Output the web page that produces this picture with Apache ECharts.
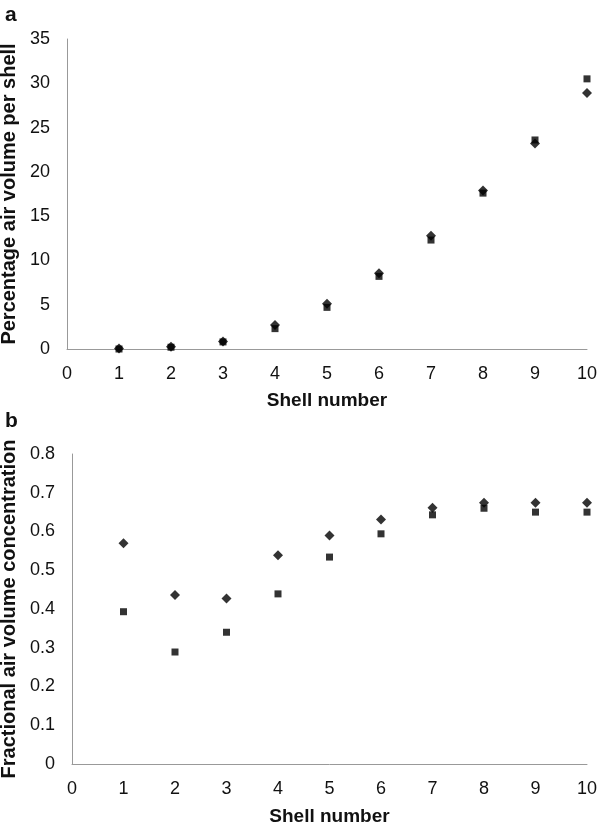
<!DOCTYPE html>
<html><head><meta charset="utf-8">
<script src="https://cdn.jsdelivr.net/npm/echarts@6/dist/echarts.min.js"></script>
<style>html,body{margin:0;padding:0;background:#fff}#c{width:600px;height:829px}</style>
</head><body><div id="c"></div>
<script>
const shells = [1,2,3,4,5,6,7,8,9,10];
const aDiamond = [0.05,0.25,0.85,2.7,5.1,8.55,12.8,17.9,23.2,28.9];
const aSquare  = [0.0,0.2,0.8,2.3,4.7,8.2,12.3,17.6,23.6,30.5];
const bDiamond = [0.570,0.436,0.427,0.539,0.590,0.631,0.661,0.674,0.674,0.674];
const bSquare  = [0.393,0.289,0.340,0.439,0.534,0.594,0.643,0.660,0.650,0.650];
const font = '"Liberation Sans", Arial, Helvetica, sans-serif';
const chart = echarts.init(document.getElementById('c'));
function pairs(v){return shells.map((s,i)=>[s,v[i]]);}
function xAx(idx, gap){return {gridIndex:idx,type:'value',min:0,max:10,interval:1,
  axisLine:{lineStyle:{color:'#999',width:1}},axisTick:{show:false},splitLine:{show:false},
  axisLabel:{color:'#111',fontSize:18,fontFamily:font,margin:16},
  name:'Shell number',nameLocation:'middle',nameGap:gap,
  nameTextStyle:{color:'#111',fontSize:19,fontWeight:'bold',fontFamily:font}};}
function yAx(idx,min,max,interval,name,gap){return {gridIndex:idx,type:'value',min:min,max:max,interval:interval,
  axisLine:{show:true,lineStyle:{color:'#999',width:1}},axisTick:{show:false},splitLine:{show:false},
  axisLabel:{color:'#111',fontSize:18,fontFamily:font,margin:17},
  name:name,nameLocation:'middle',nameGap:gap,
  nameTextStyle:{color:'#111',fontSize:20,fontWeight:'bold',fontFamily:font}};}
chart.setOption({
  animation:false,
  title:[
    {text:'a',left:0,top:0,textStyle:{fontSize:21,fontWeight:'bold',fontFamily:font,color:'#111'}},
    {text:'b',left:0,top:406,textStyle:{fontSize:21,fontWeight:'bold',fontFamily:font,color:'#111'}}
  ],
  grid:[
    {left:67,right:13,top:39,height:310,containLabel:false,outerBoundsMode:'none'},
    {left:72,right:13,top:454,height:310,containLabel:false,outerBoundsMode:'none'}
  ],
  xAxis:[xAx(0,42),xAx(1,43)],
  yAxis:[yAx(0,0,35,5,'Percentage air volume per shell',43),
         yAx(1,0,0.8,0.1,'Fractional air volume concentration',49)],
  series:[
    {type:'scatter',xAxisIndex:0,yAxisIndex:0,data:pairs(aSquare),symbol:'rect',symbolSize:7,itemStyle:{color:'#000'}},
    {type:'scatter',xAxisIndex:0,yAxisIndex:0,data:pairs(aDiamond),symbol:'diamond',symbolSize:10,itemStyle:{color:'#000'}},
    {type:'scatter',xAxisIndex:1,yAxisIndex:1,data:pairs(bSquare),symbol:'rect',symbolSize:7,itemStyle:{color:'#000'}},
    {type:'scatter',xAxisIndex:1,yAxisIndex:1,data:pairs(bDiamond),symbol:'diamond',symbolSize:10,itemStyle:{color:'#000'}}
  ]
});
</script></body></html>
